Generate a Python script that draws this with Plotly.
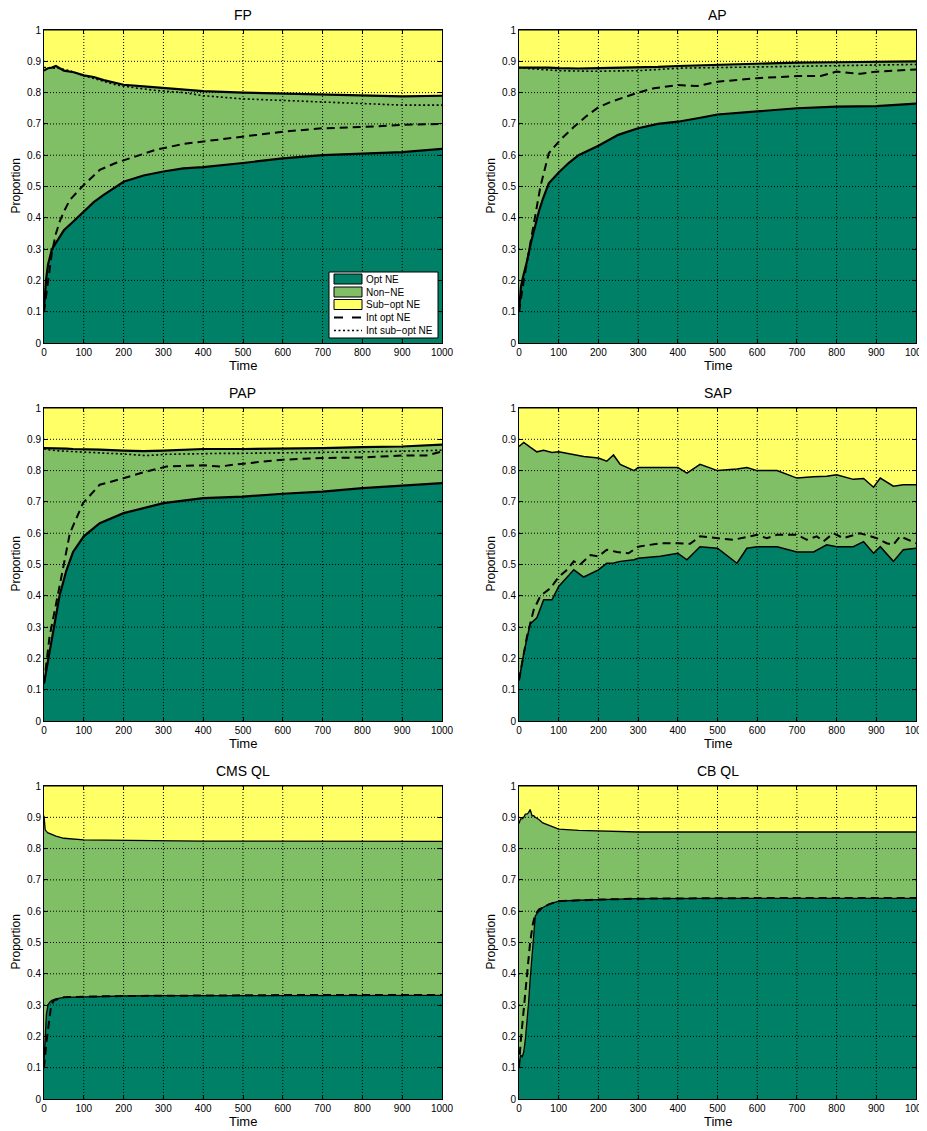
import plotly.graph_objects as go

# ---------------- data ----------------
methods = ["FP", "AP", "PAP", "SAP", "CMS QL", "CB QL"]
legend_names = ["Opt NE", "Non\u2212NE", "Sub\u2212opt NE", "Int opt NE", "Int sub\u2212opt NE"]

# stacked areas: time grid, Opt NE proportion, Sub-opt NE proportion (Non-NE is the rest)
fp_time = [0, 5, 10, 20, 30, 50, 75, 100, 125, 150, 200, 250, 300, 350, 400, 500, 600, 700, 800, 900, 1000]
fp_opt = [0.11, 0.2, 0.25, 0.3, 0.32, 0.36, 0.39, 0.42, 0.45, 0.473, 0.515, 0.535, 0.548, 0.558, 0.562, 0.575, 0.59, 0.60, 0.605, 0.61, 0.62]
fp_sub = [0.13, 0.125, 0.122, 0.12, 0.115, 0.13, 0.135, 0.145, 0.15, 0.16, 0.175, 0.18, 0.185, 0.19, 0.195, 0.2, 0.203, 0.205, 0.21, 0.212, 0.21]
fp_int_time = [0, 10, 20, 30, 40, 50, 65, 100, 140, 180, 230, 280, 350, 400, 500, 600, 700, 800, 900, 1000]
fp_int_opt = [0.1, 0.2, 0.29, 0.35, 0.39, 0.42, 0.457, 0.505, 0.553, 0.575, 0.596, 0.617, 0.636, 0.644, 0.66, 0.675, 0.686, 0.69, 0.697, 0.70]
fp_int_sub = [0.12, 0.12, 0.12, 0.122, 0.123, 0.125, 0.13, 0.146, 0.16, 0.175, 0.185, 0.193, 0.2, 0.21, 0.22, 0.225, 0.23, 0.235, 0.24, 0.24]

ap_time = [0, 5, 10, 20, 30, 40, 50, 60, 75, 100, 125, 150, 200, 250, 300, 350, 400, 450, 500, 600, 700, 800, 900, 1000]
ap_opt = [0.1, 0.18, 0.21, 0.26, 0.32, 0.37, 0.42, 0.46, 0.51, 0.545, 0.575, 0.60, 0.63, 0.665, 0.686, 0.70, 0.707, 0.718, 0.73, 0.74, 0.75, 0.755, 0.757, 0.765]
ap_sub = [0.12, 0.12, 0.12, 0.119, 0.118, 0.118, 0.118, 0.119, 0.12, 0.122, 0.123, 0.123, 0.122, 0.121, 0.12, 0.118, 0.115, 0.113, 0.112, 0.109, 0.104, 0.103, 0.102, 0.10]
ap_int_time = [0, 12, 33, 54, 75, 104, 138, 170, 200, 230, 300, 340, 400, 450, 500, 600, 700, 760, 800, 860, 900, 1000]
ap_int_opt = [0.1, 0.2, 0.35, 0.5, 0.606, 0.649, 0.69, 0.725, 0.753, 0.77, 0.80, 0.814, 0.824, 0.821, 0.835, 0.846, 0.853, 0.853, 0.867, 0.86, 0.867, 0.874]
ap_int_sub = [0.12, 0.122, 0.124, 0.126, 0.128, 0.13, 0.131, 0.132, 0.132, 0.131, 0.13, 0.127, 0.122, 0.121, 0.12, 0.117, 0.114, 0.113, 0.113, 0.112, 0.111, 0.11]

pap_time = [0, 6, 23, 39, 56, 73, 100, 140, 200, 250, 300, 400, 500, 600, 700, 800, 900, 1000]
pap_opt = [0.12, 0.163, 0.29, 0.40, 0.48, 0.54, 0.59, 0.632, 0.664, 0.68, 0.696, 0.712, 0.717, 0.726, 0.733, 0.744, 0.752, 0.76]
pap_sub = [0.128, 0.128, 0.129, 0.13, 0.13, 0.131, 0.131, 0.133, 0.136, 0.138, 0.136, 0.131, 0.131, 0.13, 0.128, 0.125, 0.123, 0.117]
pap_int_time = [0, 14, 39, 65, 98, 140, 165, 200, 257, 308, 358, 400, 442, 484, 600, 700, 800, 900, 960, 1000]
pap_int_opt = [0.12, 0.27, 0.43, 0.60, 0.696, 0.755, 0.763, 0.776, 0.797, 0.813, 0.815, 0.817, 0.813, 0.82, 0.835, 0.84, 0.842, 0.848, 0.848, 0.861]
pap_int_sub = [0.13, 0.134, 0.137, 0.139, 0.142, 0.144, 0.145, 0.147, 0.152, 0.148, 0.146, 0.145, 0.145, 0.145, 0.144, 0.142, 0.14, 0.138, 0.137, 0.135]

sap_time = [0, 12, 28, 45, 62, 83, 100, 138, 163, 200, 221, 238, 255, 290, 300, 356, 400, 423, 456, 500, 549, 574, 600, 650, 700, 742, 775, 800, 842, 868, 893, 910, 943, 968, 1000]
sap_opt = [0.13, 0.216, 0.31, 0.33, 0.387, 0.387, 0.43, 0.483, 0.46, 0.483, 0.504, 0.505, 0.51, 0.515, 0.52, 0.526, 0.536, 0.515, 0.557, 0.552, 0.504, 0.552, 0.557, 0.557, 0.54, 0.54, 0.563, 0.557, 0.557, 0.573, 0.536, 0.557, 0.51, 0.547, 0.552]
sap_sub = [0.123, 0.11, 0.125, 0.14, 0.135, 0.142, 0.14, 0.15, 0.155, 0.16, 0.17, 0.15, 0.18, 0.2, 0.19, 0.19, 0.19, 0.208, 0.18, 0.2, 0.195, 0.19, 0.2, 0.2, 0.224, 0.22, 0.218, 0.213, 0.228, 0.225, 0.253, 0.224, 0.25, 0.245, 0.245]
sap_int_time = [0, 20, 37, 54, 79, 100, 121, 138, 154, 180, 200, 221, 247, 276, 300, 356, 400, 431, 456, 500, 540, 600, 624, 650, 700, 725, 750, 767, 792, 817, 859, 901, 926, 943, 960, 1000]
sap_int_opt = [0.13, 0.27, 0.355, 0.40, 0.424, 0.46, 0.483, 0.51, 0.50, 0.53, 0.526, 0.547, 0.54, 0.536, 0.557, 0.568, 0.568, 0.566, 0.59, 0.584, 0.579, 0.595, 0.584, 0.595, 0.595, 0.579, 0.59, 0.574, 0.60, 0.584, 0.60, 0.584, 0.568, 0.563, 0.59, 0.568]

cms_time = [0, 3, 6, 10, 15, 20, 30, 50, 75, 100, 150, 200, 300, 400, 500, 600, 700, 800, 900, 1000]
cms_opt = [0.12, 0.2, 0.27, 0.30, 0.31, 0.315, 0.32, 0.325, 0.326, 0.327, 0.328, 0.329, 0.33, 0.33, 0.33, 0.331, 0.331, 0.331, 0.331, 0.331]
cms_sub = [0.095, 0.14, 0.145, 0.15, 0.152, 0.155, 0.16, 0.167, 0.17, 0.172, 0.173, 0.174, 0.175, 0.176, 0.176, 0.176, 0.177, 0.177, 0.177, 0.177]
cms_int_time = [0, 6, 14, 18, 25, 35, 50, 100, 200, 600, 1000]
cms_int_opt = [0.1, 0.18, 0.26, 0.3, 0.315, 0.32, 0.325, 0.327, 0.329, 0.332, 0.332]

cb_time = [0, 4, 8, 12, 16, 20, 24, 28, 33, 37, 41, 50, 60, 75, 100, 150, 200, 300, 500, 1000]
cb_opt = [0.11, 0.14, 0.135, 0.15, 0.19, 0.24, 0.305, 0.38, 0.455, 0.52, 0.585, 0.60, 0.612, 0.622, 0.632, 0.635, 0.637, 0.64, 0.641, 0.641]
cb_sub = [0.12, 0.105, 0.105, 0.10, 0.09, 0.09, 0.085, 0.075, 0.095, 0.095, 0.10, 0.107, 0.118, 0.125, 0.138, 0.142, 0.144, 0.147, 0.147, 0.147]
cb_int_time = [0, 4, 10, 16, 22, 28, 35, 41, 50, 75, 100, 200, 300, 600, 1000]
cb_int_opt = [0.1, 0.18, 0.26, 0.33, 0.42, 0.5, 0.56, 0.59, 0.605, 0.622, 0.632, 0.637, 0.64, 0.642, 0.642]

x_ticks = [0, 100, 200, 300, 400, 500, 600, 700, 800, 900, 1000]
y_ticks = [0, 0.1, 0.2, 0.3, 0.4, 0.5, 0.6, 0.7, 0.8, 0.9, 1]

series = {
    "FP": (fp_time, fp_opt, fp_sub, fp_int_time, fp_int_opt, fp_int_sub),
    "AP": (ap_time, ap_opt, ap_sub, ap_int_time, ap_int_opt, ap_int_sub),
    "PAP": (pap_time, pap_opt, pap_sub, pap_int_time, pap_int_opt, pap_int_sub),
    "SAP": (sap_time, sap_opt, sap_sub, sap_int_time, sap_int_opt, None),
    "CMS QL": (cms_time, cms_opt, cms_sub, cms_int_time, cms_int_opt, None),
    "CB QL": (cb_time, cb_opt, cb_sub, cb_int_time, cb_int_opt, None),
}

# ---------------- style / layout ----------------
PAGE_W, PAGE_H = 927, 1131
OFF = 8  # page body margin in the browser
W, H = PAGE_W - OFF, PAGE_H - OFF
C_OPT = "#008066"
C_NON = "#80BF66"
C_SUB = "#FFFF66"
FONT = "Liberation Sans, Arial, Helvetica, sans-serif"
# boundary line widths (the noisy runs draw a thick band)
edge_width = {"FP": 2.2, "AP": 2.2, "PAP": 2.2, "SAP": 1.5, "CMS QL": 1.3, "CB QL": 1.3}
DASH = "8px,5px"
DOT = "2px,2.5px"

col_px = [(44, 442), (519, 916)]
row_px = [(30, 343), (408, 721), (786, 1099)]


def px_x(p):
    return (p - OFF) / W


def px_y(p):
    return 1 - (p - OFF) / H


fig = go.Figure()
shapes = []
annotations = []

for i, m in enumerate(methods):
    r, c = divmod(i, 2)
    sfx = "" if i == 0 else str(i + 1)
    xa, ya = "x" + sfx, "y" + sfx
    t, opt, sub, it, iopt, isub = series[m]
    non = [1 - a - b for a, b in zip(opt, sub)]
    grp = "s%d" % i
    ew = edge_width[m]
    fig.add_trace(go.Scatter(x=t, y=opt, stackgroup=grp, mode="lines", name=legend_names[0],
                             line=dict(color="black", width=ew), fillcolor=C_OPT,
                             xaxis=xa, yaxis=ya, showlegend=False))
    fig.add_trace(go.Scatter(x=t, y=non, stackgroup=grp, mode="lines", name=legend_names[1],
                             line=dict(color="black", width=ew), fillcolor=C_NON,
                             xaxis=xa, yaxis=ya, showlegend=False))
    fig.add_trace(go.Scatter(x=t, y=sub, stackgroup=grp, mode="lines", name=legend_names[2],
                             line=dict(color="black", width=1), fillcolor=C_SUB,
                             xaxis=xa, yaxis=ya, showlegend=False))
    fig.add_trace(go.Scatter(x=it, y=iopt, mode="lines", name=legend_names[3],
                             line=dict(color="black", width=2, dash=DASH),
                             xaxis=xa, yaxis=ya, showlegend=False))
    if isub is not None:
        fig.add_trace(go.Scatter(x=it, y=[1 - v for v in isub], mode="lines", name=legend_names[4],
                                 line=dict(color="black", width=1.6, dash=DOT),
                                 xaxis=xa, yaxis=ya, showlegend=False))

    x0, x1 = col_px[c]
    y0, y1 = row_px[r]
    axis_common = dict(ticks="inside", ticklen=4, tickcolor="black",
                       showline=True, linecolor="black", linewidth=1, mirror="allticks",
                       showgrid=False, zeroline=False, fixedrange=True,
                       ticklabeloverflow="allow",
                       tickfont=dict(size=10, color="black", family=FONT))
    fig.layout["xaxis" + sfx] = dict(domain=[px_x(x0), px_x(x1)], range=[0, 1000], anchor=ya,
                                     tickvals=x_ticks, **axis_common)
    fig.layout["yaxis" + sfx] = dict(domain=[px_y(y1), px_y(y0)], range=[0, 1], anchor=xa,
                                     tickvals=y_ticks, **axis_common)

    # dotted grid drawn above the filled areas (MATLAB style)
    for xv in x_ticks[1:-1]:
        shapes.append(dict(type="line", xref=xa, yref=ya + " domain", x0=xv, x1=xv, y0=0, y1=1,
                           line=dict(color="black", width=1, dash="1px,2px"), layer="above"))
    for yv in y_ticks[1:-1]:
        shapes.append(dict(type="line", xref=xa + " domain", yref=ya, x0=0, x1=1, y0=yv, y1=yv,
                           line=dict(color="black", width=1, dash="1px,2px"), layer="above"))

    cx = px_x((x0 + x1) / 2)
    annotations.append(dict(text=m, x=cx, y=px_y(y0 - 15), xref="paper", yref="paper",
                            showarrow=False, xanchor="center", yanchor="middle",
                            font=dict(size=14, family=FONT, color="black")))
    annotations.append(dict(text="Time", x=cx, y=px_y(y1 + 22), xref="paper", yref="paper",
                            showarrow=False, xanchor="center", yanchor="middle",
                            font=dict(size=13, family=FONT, color="black")))
    annotations.append(dict(text="Proportion", x=px_x(x0 - 29), y=px_y((y0 + y1) / 2),
                            xref="paper", yref="paper", textangle=-90,
                            showarrow=False, xanchor="center", yanchor="middle",
                            font=dict(size=12, family=FONT, color="black")))

# ---------------- legend (MATLAB-style box inside the FP panel) ----------------
LX0, LX1, LY0, LY1 = 329, 438, 272, 338
shapes.append(dict(type="rect", xref="paper", yref="paper", x0=px_x(LX0), x1=px_x(LX1),
                   y0=px_y(LY1), y1=px_y(LY0), fillcolor="white",
                   line=dict(color="black", width=1), layer="above"))
item_y = [279, 292, 304.5, 317.5, 330.5]
sym_x0, sym_x1 = 334, 362
swatches = [C_OPT, C_NON, C_SUB]
for k, name in enumerate(legend_names):
    yc = item_y[k]
    if k < 3:
        shapes.append(dict(type="rect", xref="paper", yref="paper",
                           x0=px_x(sym_x0), x1=px_x(sym_x1), y0=px_y(yc + 5), y1=px_y(yc - 5),
                           fillcolor=swatches[k], line=dict(color="black", width=1), layer="above"))
    else:
        shapes.append(dict(type="line", xref="paper", yref="paper",
                           x0=px_x(sym_x0), x1=px_x(sym_x1), y0=px_y(yc), y1=px_y(yc),
                           line=dict(color="black", width=2 if k == 3 else 1.6,
                                     dash="9px,9px" if k == 3 else DOT), layer="above"))
    annotations.append(dict(text=name, x=px_x(364), y=px_y(yc), xref="paper", yref="paper",
                            showarrow=False, xanchor="left", yanchor="middle",
                            font=dict(size=10, family=FONT, color="black")))

fig.update_layout(
    width=W, height=H,
    margin=dict(l=0, r=0, t=0, b=0, pad=0, autoexpand=False),
    paper_bgcolor="white", plot_bgcolor="white",
    font=dict(family=FONT, color="black"),
    shapes=shapes, annotations=annotations,
    showlegend=False,
)

fig.write_html("out.html")
